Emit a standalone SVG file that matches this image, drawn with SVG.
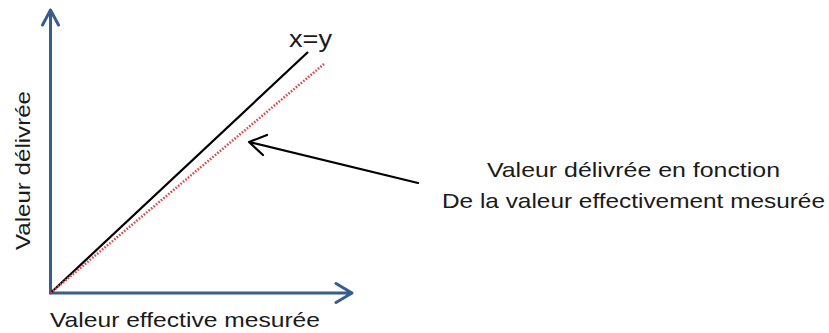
<svg xmlns="http://www.w3.org/2000/svg" width="829" height="333" viewBox="0 0 829 333">
<style>
.axis{stroke:#385d8a;stroke-width:3;fill:none;stroke-linecap:round;stroke-linejoin:round}
.txt{font-family:"Liberation Sans","DejaVu Sans",sans-serif;font-size:21px;fill:#1a1a1a}
</style>
<rect width="829" height="333" fill="#ffffff"/>
<g id="axes">
<path class="axis" d="M50.5,293 L50.5,10 M42.5,25 L50.5,10 L58.5,25"/>
<path class="axis" d="M50.5,293 L352,293 M336,283.5 L352,293 L336,302.5"/>
</g>
<g id="lines">
<line x1="50.5" y1="293" x2="308" y2="52" stroke="#000" stroke-width="2.2"/>
<line x1="50.5" y1="293" x2="324" y2="64" stroke="#d9474a" stroke-width="2.5" stroke-dasharray="1.6 1.6"/>
</g>
<g id="connectors">
<path d="M418,183 L249,142 M267,135 L249,142 L263,155" stroke="#000" stroke-width="2.2" fill="none" stroke-linecap="round" stroke-linejoin="round"/>
</g>
<g id="labels">
<text class="txt" x="289" y="47" textLength="43" lengthAdjust="spacingAndGlyphs" style="font-size:23px">x=y</text>
<text class="txt" transform="translate(30,250) rotate(-90)" x="0" y="0" textLength="159" lengthAdjust="spacingAndGlyphs">Valeur délivrée</text>
<text class="txt" x="50" y="327" textLength="270" lengthAdjust="spacingAndGlyphs">Valeur effective mesurée</text>
<text class="txt" x="487" y="177" textLength="293" lengthAdjust="spacingAndGlyphs">Valeur délivrée en fonction</text>
<text class="txt" x="442" y="208" textLength="383" lengthAdjust="spacingAndGlyphs">De la valeur effectivement mesurée</text>
</g>
</svg>
